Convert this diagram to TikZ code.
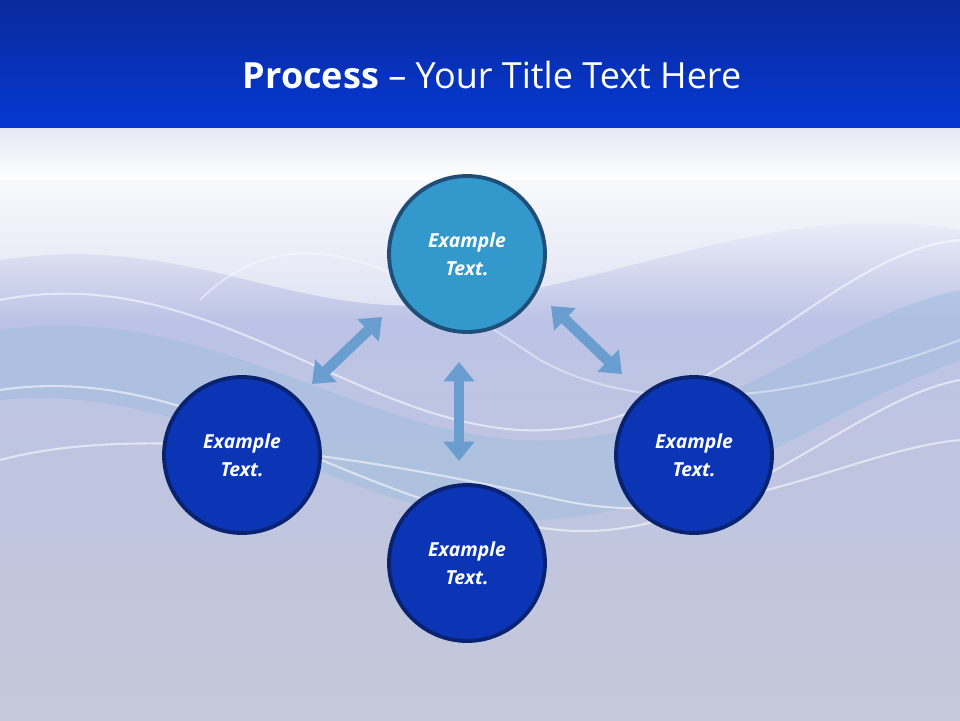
\documentclass[tikz,border=0pt]{standalone}
\usepackage{fontspec}
\setmainfont{Open Sans}
\usetikzlibrary{arrows.meta}
\definecolor{topA}{HTML}{0A2A9C}
\definecolor{topB}{HTML}{0538D2}
\definecolor{lav}{HTML}{BCC3E6}
\definecolor{lavB}{HTML}{C4C8D8}
\definecolor{arr}{HTML}{6A9ED0}
\definecolor{cTop}{HTML}{3399CC}
\definecolor{cTopS}{HTML}{1F4E79}
\definecolor{cBlue}{HTML}{0B35B5}
\definecolor{cBlueS}{HTML}{0A2370}
\tikzset{
  circ/.style={circle,line width=2.2pt,text=white,font=\bfseries\itshape\fontsize{11}{16}\selectfont,align=center,minimum size=3.12cm},
  blk/.style={line width=6pt,draw=arr,{Triangle[length=11pt,width=17pt]}-{Triangle[length=11pt,width=17pt]}},
  wave/.style={white,opacity=0.55,line width=1.2pt}
}
\begin{document}
\begin{tikzpicture}[x=0.02cm,y=-0.02cm]
\useasboundingbox (0,0) rectangle (960,720);
\shade[bottom color=lavB,top color=lav] (0,320) rectangle (960,720);
\shade[top color=white!60!lav,bottom color=white] (0,125) rectangle (960,180);
\shade[top color=white,bottom color=lav] (0,180) rectangle (960,321);
\shade[top color=topA,bottom color=topB] (0,0) rectangle (960,127);
% waves
\fill[white!85!lav,opacity=0.6] (0,260) .. controls (200,230) and (300,330) .. (480,300) .. controls (650,270) and (800,200) .. (960,230) -- (960,180) -- (0,180) -- cycle;
\fill[cyan!20!lav,opacity=0.5] (0,330) .. controls (200,300) and (350,430) .. (520,440) .. controls (700,450) and (820,320) .. (960,290) -- (960,360) .. controls (800,420) and (700,520) .. (520,520) .. controls (350,520) and (200,380) .. (0,400) -- cycle;
\draw[wave] (0,300) .. controls (200,260) and (350,420) .. (520,430) .. controls (700,440) and (830,250) .. (960,240);
\draw[wave] (0,390) .. controls (200,360) and (350,510) .. (560,530) .. controls (720,545) and (850,400) .. (960,380);
\draw[wave] (0,460) .. controls (150,420) and (380,460) .. (560,500) .. controls (720,535) and (850,450) .. (960,440);
\draw[wave,opacity=0.4] (200,300) .. controls (300,200) and (420,280) .. (540,360) .. controls (650,420) and (800,400) .. (960,340);
\node[text=white,font=\fontsize{20.5}{24}\selectfont] (title) at (492,75) {\textbf{Process} – Your Title Text Here};
\node[circ,fill=cTop,draw=cTopS] (c1) at (467,254) {Example\\Text.};
\node[circ,fill=cBlue,draw=cBlueS] (c2) at (242,455) {Example\\Text.};
\node[circ,fill=cBlue,draw=cBlueS] (c3) at (694,455) {Example\\Text.};
\node[circ,fill=cBlue,draw=cBlueS] (c4) at (467,563) {Example\\Text.};
\coordinate (a1s) at (312,384); \coordinate (a1e) at (382,317);
\coordinate (a2s) at (459,362); \coordinate (a2e) at (459,461);
\coordinate (a3s) at (551,306); \coordinate (a3e) at (622,374);
\draw[blk] (a1s) -- (a1e);
\draw[blk] (a2s) -- (a2e);
\draw[blk] (a3s) -- (a3e);
\end{tikzpicture}
\end{document}
